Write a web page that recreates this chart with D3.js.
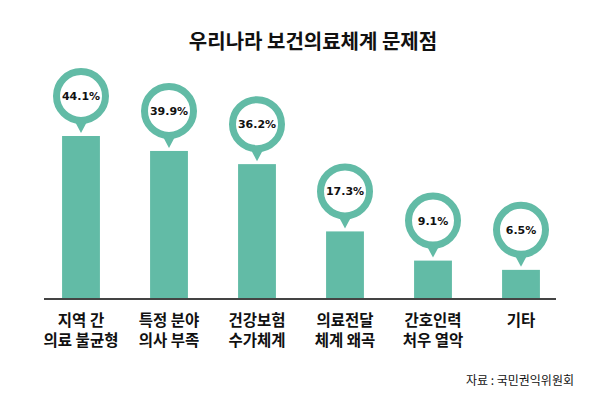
<!DOCTYPE html>
<html>
<head>
<meta charset="utf-8">
<script src="https://cdn.jsdelivr.net/npm/d3@7"></script>
<style>
  body { margin: 0; background: #fff; }
  svg { display: block; }
</style>
</head>
<body>
<script>
var categories = ["지역 간|의료 불균형", "특정 분야|의사 부족", "건강보험|수가체계", "의료전달|체계 왜곡", "간호인력|처우 열악", "기타"];
var values = [44.1, 39.9, 36.2, 17.3, 9.1, 6.5];
var title = "우리나라 보건의료체계 문제점";
var source = "자료 : 국민권익위원회";

var width = 600;
var height = 395;
var baseline = 298;
var color = "#62bba6";
var krFont = "'Noto Sans CJK KR', 'Noto Sans', sans-serif";

var svg = d3.select("body").append("svg")
            .attr("width", width)
            .attr("height", height);

var xScale = d3.scaleBand()
               .domain(categories)
               .range([37, 565])
               .paddingInner(0.57)
               .paddingOuter(0.285);
// bars keep a small stub below zero, like the original
var yScale = d3.scaleLinear()
               .domain([0, 50])
               .range([293, 115]);

// title
svg.append("text")
   .attr("x", 313)
   .attr("y", 49)
   .attr("text-anchor", "middle")
   .style("font-family", krFont)
   .style("font-weight", "bold")
   .style("font-size", "20px")
   .attr("fill", "#111")
   .text(title);

// bars
svg.selectAll("rect.bar")
   .data(values)
   .enter()
   .append("rect")
   .attr("class", "bar")
   .attr("x", function(d, i) { return xScale(categories[i]); })
   .attr("y", function(d) { return yScale(d); })
   .attr("width", xScale.bandwidth())
   .attr("height", function(d) { return baseline - yScale(d); })
   .attr("fill", color);

// axis line
svg.append("line")
   .attr("x1", 44).attr("x2", 556)
   .attr("y1", baseline + 1).attr("y2", baseline + 1)
   .attr("stroke", "#444")
   .attr("stroke-width", 2);

// bubbles
var bubble = svg.selectAll("g.bubble")
   .data(values)
   .enter()
   .append("g")
   .attr("class", "bubble")
   .attr("transform", function(d, i) {
        var cx = xScale(categories[i]) + xScale.bandwidth() / 2;
        return "translate(" + cx + "," + (yScale(d) - 40) + ")";
    });

bubble.append("path")
      .attr("d", "M-8,22 L0,37 L8,22 Z")
      .attr("fill", color);
bubble.append("circle")
      .attr("r", 24.5)
      .attr("fill", "#fff")
      .attr("stroke", color)
      .attr("stroke-width", 7);
bubble.append("text")
      .attr("text-anchor", "middle")
      .attr("dy", "0.36em")
      .style("font-family", "'DejaVu Sans', sans-serif")
      .style("font-weight", "bold")
      .style("font-size", "11px")
      .attr("fill", "#111")
      .text(function(d) { return d.toFixed(1) + "%"; });

// category labels
var labels = svg.selectAll("text.cat")
   .data(categories)
   .enter()
   .append("text")
   .attr("class", "cat")
   .attr("text-anchor", "middle")
   .attr("x", function(d) { return xScale(d) + xScale.bandwidth() / 2; })
   .attr("y", 326)
   .style("font-family", krFont)
   .style("font-weight", "bold")
   .style("font-size", "15.5px")
   .attr("fill", "#111");
labels.each(function(d) {
    var lines = d.split("|");
    var t = d3.select(this);
    lines.forEach(function(l, j) {
        t.append("tspan")
         .attr("x", t.attr("x"))
         .attr("dy", j === 0 ? 0 : 20)
         .text(l);
    });
});

// source
svg.append("text")
   .attr("x", 574)
   .attr("y", 385)
   .attr("text-anchor", "end")
   .style("font-family", krFont)
   .style("font-size", "12px")
   .attr("fill", "#111")
   .text(source);
</script>
</body>
</html>
